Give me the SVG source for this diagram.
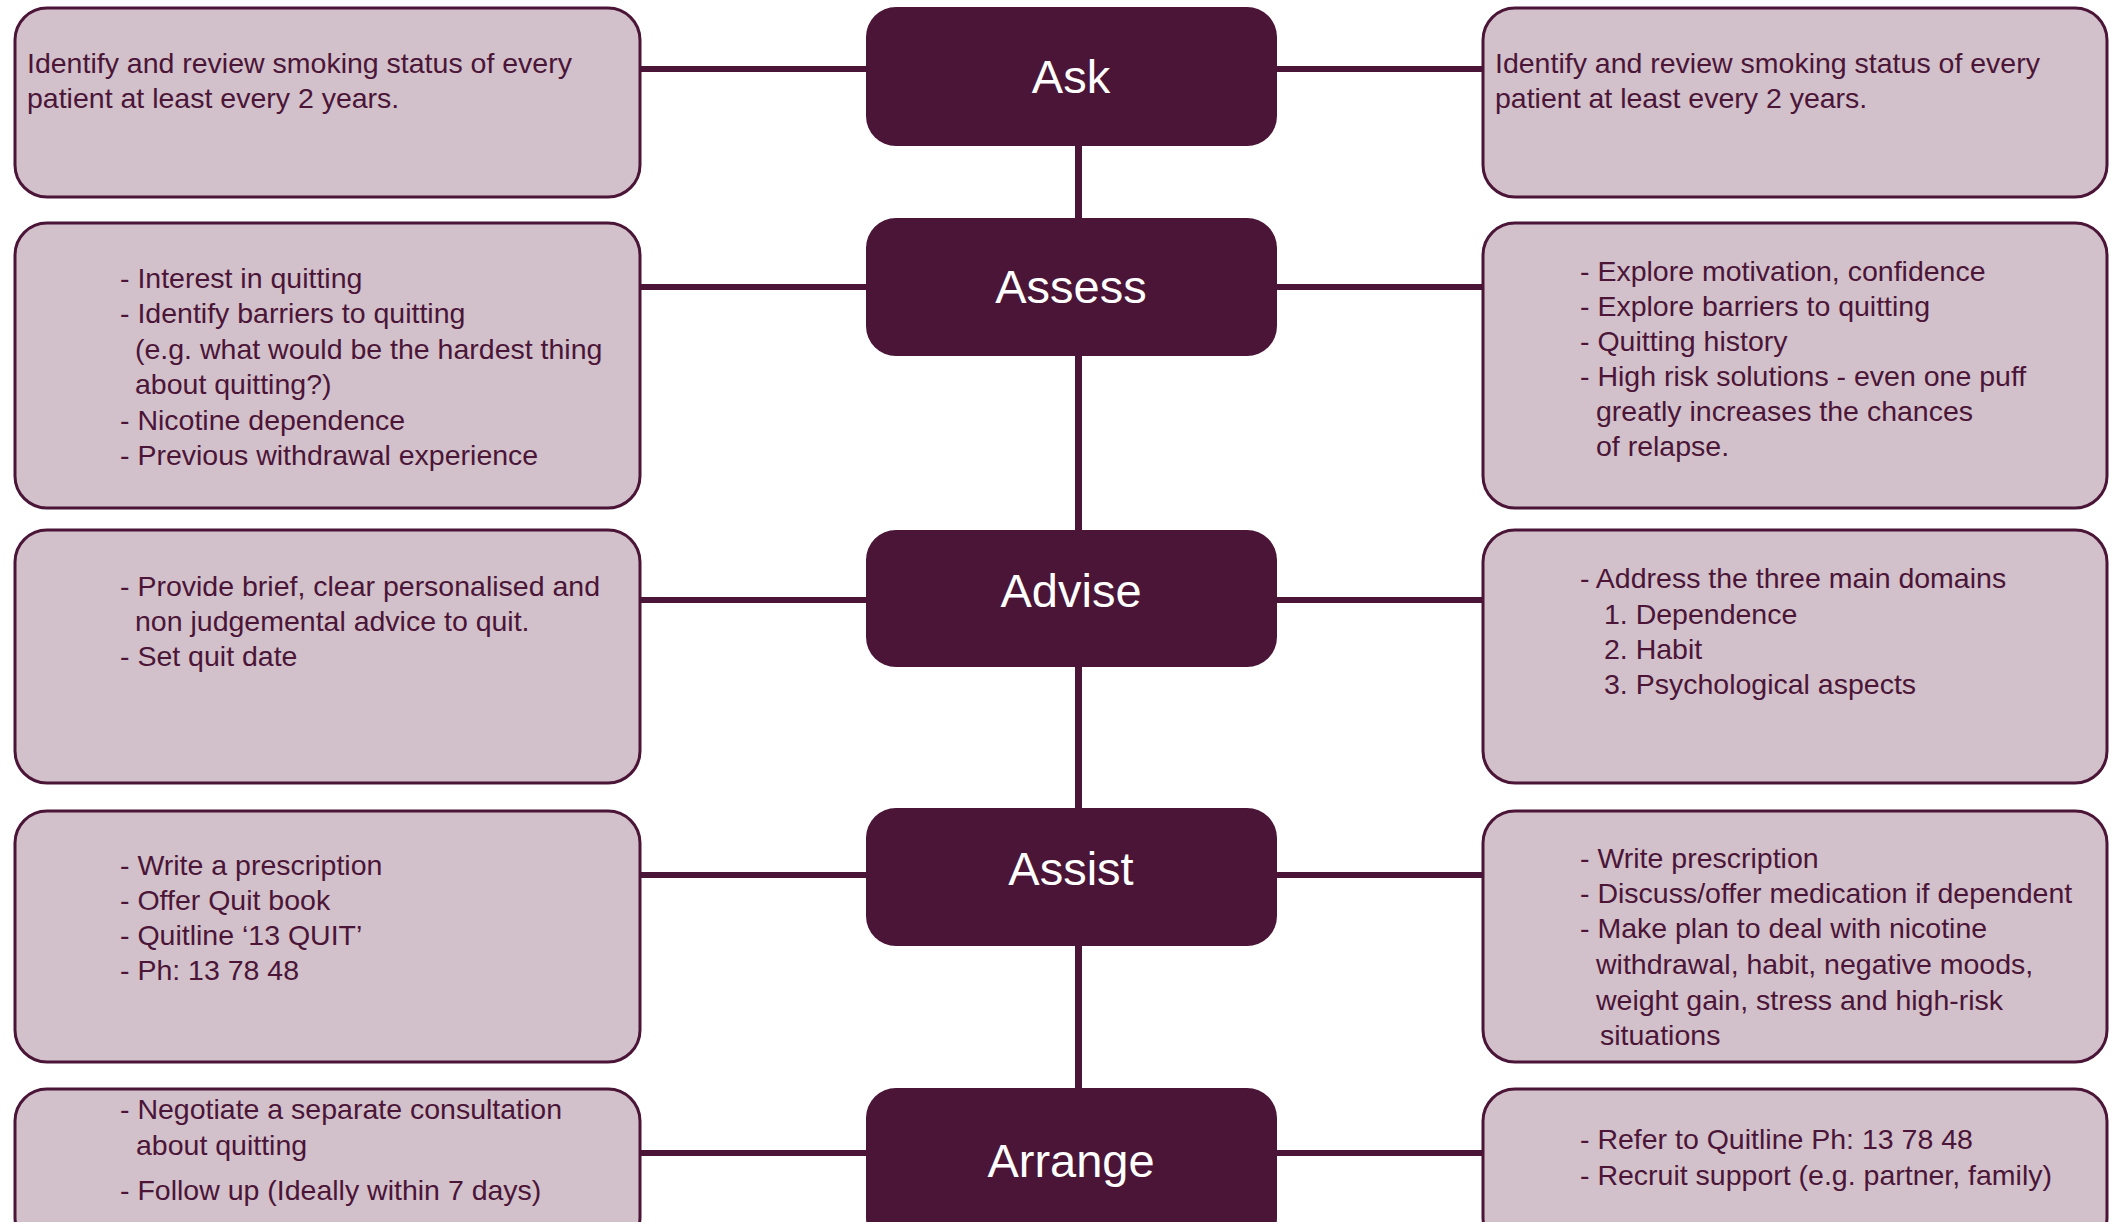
<svg xmlns="http://www.w3.org/2000/svg" width="2116" height="1222" viewBox="0 0 2116 1222">
<style>
.box{fill:#D2C0CA;stroke:#4B1538;stroke-width:3}
.node{fill:#4B1538}
.t{font-family:"Liberation Sans",Arial,sans-serif;font-size:28.5px;fill:#4B1538}
.lbl{font-family:"Liberation Sans",Arial,sans-serif;font-size:47px;fill:#FFFFFF;text-anchor:middle}
.c{stroke:#4B1538;stroke-width:6;fill:none}
.v{stroke:#4B1538;stroke-width:7;fill:none}
</style>
<rect width="2116" height="1222" fill="#FFFFFF"/>
<g id="connectors">
<line class="v" x1="1078.5" y1="140" x2="1078.5" y2="1095"/>
<line class="c" x1="640" y1="69" x2="870" y2="69"/>
<line class="c" x1="1273" y1="69" x2="1483" y2="69"/>
<line class="c" x1="640" y1="287" x2="870" y2="287"/>
<line class="c" x1="1273" y1="287" x2="1483" y2="287"/>
<line class="c" x1="640" y1="600" x2="870" y2="600"/>
<line class="c" x1="1273" y1="600" x2="1483" y2="600"/>
<line class="c" x1="640" y1="875" x2="870" y2="875"/>
<line class="c" x1="1273" y1="875" x2="1483" y2="875"/>
<line class="c" x1="640" y1="1153" x2="870" y2="1153"/>
<line class="c" x1="1273" y1="1153" x2="1483" y2="1153"/>
</g>
<g id="ask">
<rect class="node" x="866" y="7" width="411" height="139" rx="30"/>
<text class="lbl" x="1071" y="93">Ask</text>
</g>
<g id="assess">
<rect class="node" x="866" y="218" width="411" height="138" rx="30"/>
<text class="lbl" x="1071" y="303">Assess</text>
</g>
<g id="advise">
<rect class="node" x="866" y="530" width="411" height="137" rx="30"/>
<text class="lbl" x="1071" y="607">Advise</text>
</g>
<g id="assist">
<rect class="node" x="866" y="808" width="411" height="138" rx="30"/>
<text class="lbl" x="1071" y="885">Assist</text>
</g>
<g id="arrange">
<rect class="node" x="866" y="1088" width="411" height="160" rx="30"/>
<text class="lbl" x="1071" y="1177">Arrange</text>
</g>
<g id="ask-left">
<rect class="box" x="15" y="8" width="625" height="189" rx="32"/>
<text class="t" x="27" y="73">Identify and review smoking status of every</text>
<text class="t" x="27" y="108">patient at least every 2 years.</text>
</g>
<g id="ask-right">
<rect class="box" x="1483" y="8" width="624" height="189" rx="32"/>
<text class="t" x="1495" y="73">Identify and review smoking status of every</text>
<text class="t" x="1495" y="108">patient at least every 2 years.</text>
</g>
<g id="assess-left">
<rect class="box" x="15" y="223" width="625" height="285" rx="32"/>
<text class="t" x="120" y="288">- Interest in quitting</text>
<text class="t" x="120" y="323">- Identify barriers to quitting</text>
<text class="t" x="135" y="359">(e.g. what would be the hardest thing</text>
<text class="t" x="135" y="394">about quitting?)</text>
<text class="t" x="120" y="430">- Nicotine dependence</text>
<text class="t" x="120" y="465">- Previous withdrawal experience</text>
</g>
<g id="assess-right">
<rect class="box" x="1483" y="223" width="624" height="285" rx="32"/>
<text class="t" x="1580" y="281">- Explore motivation, confidence</text>
<text class="t" x="1580" y="316">- Explore barriers to quitting</text>
<text class="t" x="1580" y="351">- Quitting history</text>
<text class="t" x="1580" y="386">- High risk solutions - even one puff</text>
<text class="t" x="1596" y="421">greatly increases the chances</text>
<text class="t" x="1596" y="456">of relapse.</text>
</g>
<g id="advise-left">
<rect class="box" x="15" y="530" width="625" height="253" rx="32"/>
<text class="t" x="120" y="596">- Provide brief, clear personalised and</text>
<text class="t" x="135" y="631">non judgemental advice to quit.</text>
<text class="t" x="120" y="666">- Set quit date</text>
</g>
<g id="advise-right">
<rect class="box" x="1483" y="530" width="624" height="253" rx="32"/>
<text class="t" x="1580" y="588">- Address the three main domains</text>
<text class="t" x="1604" y="624">1. Dependence</text>
<text class="t" x="1604" y="659">2. Habit</text>
<text class="t" x="1604" y="694">3. Psychological aspects</text>
</g>
<g id="assist-left">
<rect class="box" x="15" y="811" width="625" height="251" rx="32"/>
<text class="t" x="120" y="875">- Write a prescription</text>
<text class="t" x="120" y="910">- Offer Quit book</text>
<text class="t" x="120" y="945">- Quitline ‘13 QUIT’</text>
<text class="t" x="120" y="980">- Ph: 13 78 48</text>
</g>
<g id="assist-right">
<rect class="box" x="1483" y="811" width="624" height="251" rx="32"/>
<text class="t" x="1580" y="868">- Write prescription</text>
<text class="t" x="1580" y="903">- Discuss/offer medication if dependent</text>
<text class="t" x="1580" y="938">- Make plan to deal with nicotine</text>
<text class="t" x="1596" y="974">withdrawal, habit, negative moods,</text>
<text class="t" x="1596" y="1010">weight gain, stress and high-risk</text>
<text class="t" x="1600" y="1045">situations</text>
</g>
<g id="arrange-left">
<rect class="box" x="15" y="1089" width="625" height="160" rx="32"/>
<text class="t" x="120" y="1119">- Negotiate a separate consultation</text>
<text class="t" x="136" y="1155">about quitting</text>
<text class="t" x="120" y="1200">- Follow up (Ideally within 7 days)</text>
</g>
<g id="arrange-right">
<rect class="box" x="1483" y="1089" width="624" height="160" rx="32"/>
<text class="t" x="1580" y="1149">- Refer to Quitline Ph: 13 78 48</text>
<text class="t" x="1580" y="1185">- Recruit support (e.g. partner, family)</text>
</g>
</svg>
